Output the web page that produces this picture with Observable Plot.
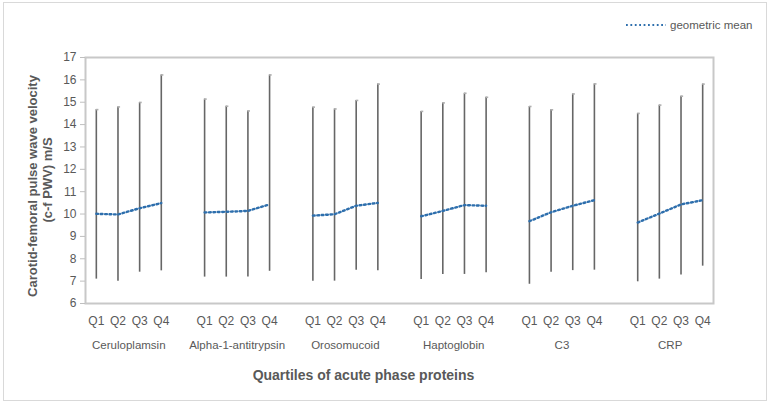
<!DOCTYPE html>
<html>
<head>
<meta charset="utf-8">
<script src="https://cdn.jsdelivr.net/npm/d3@7"></script>
<script src="https://cdn.jsdelivr.net/npm/@observablehq/plot@0.6"></script>
<style>
  body { margin: 0; background: #fff; font-family: "Liberation Sans", Arial, sans-serif; }
  #wrap { position: relative; width: 771px; height: 405px; }
  #border { position: absolute; left: 3px; top: 2px; width: 764px; height: 399px; border: 1px solid #d9d9d9; box-sizing: border-box; pointer-events: none; }
  #legend { position: absolute; left: 625px; top: 19px; font-size: 11.5px; color: #595959; display: flex; align-items: center; }
  .ytitle { position: absolute; font-weight: bold; font-size: 13px; color: #595959; white-space: nowrap; transform: translate(-50%, -50%) rotate(-90deg); }
  #xtitle { position: absolute; left: 0; width: 771px; text-align: center; top: 367px; font-weight: bold; font-size: 14px; color: #595959; }
  #xtitle span { position: relative; left: -22px; }
</style>
</head>
<body>
<div id="wrap">
  <div id="chart"></div>
  <div id="border"></div>
  <div id="legend"><svg width="42" height="6"><line x1="1" y1="3" x2="41" y2="3" stroke="#2e6fad" stroke-width="2.2" stroke-dasharray="1.8 2.6"/></svg><span style="margin-left:3px">geometric mean</span></div>
  <div class="ytitle" style="left:32px; top:186px;">Carotid-femoral pulse wave velocity</div>
  <div class="ytitle" style="left:47px; top:180px;">(c-f PWV) m/S</div>
  <div id="xtitle"><span>Quartiles of acute phase proteins</span></div>
</div>
<script>
const proteins = ["Ceruloplamsin", "Alpha-1-antitrypsin", "Orosomucoid", "Haptoglobin", "C3", "CRP"];
const quartiles = ["Q1", "Q2", "Q3", "Q4"];
const meanValues = [
  [10.01, 9.98, 10.26, 10.49],
  [10.07, 10.10, 10.14, 10.43],
  [9.93, 9.99, 10.37, 10.50],
  [9.90, 10.14, 10.40, 10.37],
  [9.68, 10.08, 10.37, 10.62],
  [9.62, 10.02, 10.43, 10.62]
];
const lowValues = [
  [7.09, 7.00, 7.40, 7.46],
  [7.18, 7.18, 7.18, 7.44],
  [7.00, 7.00, 7.49, 7.46],
  [7.07, 7.30, 7.30, 7.37],
  [6.86, 7.40, 7.47, 7.49],
  [6.97, 7.09, 7.27, 7.67]
];
const highValues = [
  [14.67, 14.79, 14.99, 16.22],
  [15.14, 14.82, 14.61, 16.22],
  [14.78, 14.70, 15.08, 15.81],
  [14.59, 14.97, 15.40, 15.22],
  [14.81, 14.66, 15.37, 15.82],
  [14.50, 14.87, 15.27, 15.81]
];
const yTicks = [6, 7, 8, 9, 10, 11, 12, 13, 14, 15, 16, 17];

const rows = [];
proteins.forEach((p, gi) => {
  quartiles.forEach((q, qi) => {
    rows.push({
      protein: p, quartile: q,
      pos: gi * 5 + qi,
      mean: meanValues[gi][qi],
      low: lowValues[gi][qi],
      high: highValues[gi][qi]
    });
  });
});
const groupLabels = proteins.map((p, gi) => ({protein: p, pos: gi * 5 + 1.5}));
const tickPos = rows.map(d => d.pos);
const qByPos = new Map(rows.map(d => [d.pos, d.quartile]));

const chart = Plot.plot({
  width: 771,
  height: 405,
  marginTop: 57,
  marginBottom: 102,
  marginLeft: 85,
  marginRight: 58,
  style: {fontFamily: "'Liberation Sans', Arial, sans-serif", background: "transparent"},
  x: {domain: [-0.5, 28.5]},
  y: {domain: [6, 17]},
  marks: [
    Plot.frame({stroke: "#c8c8c8", strokeWidth: 2}),
    Plot.axisY({ticks: yTicks, tickSize: 5, tickPadding: 4, stroke: "#bfbfbf", fill: "#595959", fontSize: 12, label: null}),
    Plot.axisX({ticks: tickPos, tickFormat: d => qByPos.get(d), tickSize: 0, tickPadding: 13, fill: "#595959", fontSize: 12, label: null}),
    Plot.text(groupLabels, {x: "pos", text: "protein", frameAnchor: "bottom", dy: 45, fill: "#595959", fontSize: 11.5}),
    Plot.ruleX(rows, {x: "pos", y1: "low", y2: "high", stroke: "#666666", strokeWidth: 1.6}),
    Plot.ruleY(rows, {x1: "pos", x2: d => d.pos + 0.12, y: "high", stroke: "#b0b0b0", strokeWidth: 1.6}),
    Plot.line(rows, {x: "pos", y: "mean", z: "protein", stroke: "#2e6fad", strokeWidth: 2.4, strokeDasharray: "1.8 2.6", curve: "linear"})
  ]
});
document.getElementById("chart").append(chart);
</script>
</body>
</html>
